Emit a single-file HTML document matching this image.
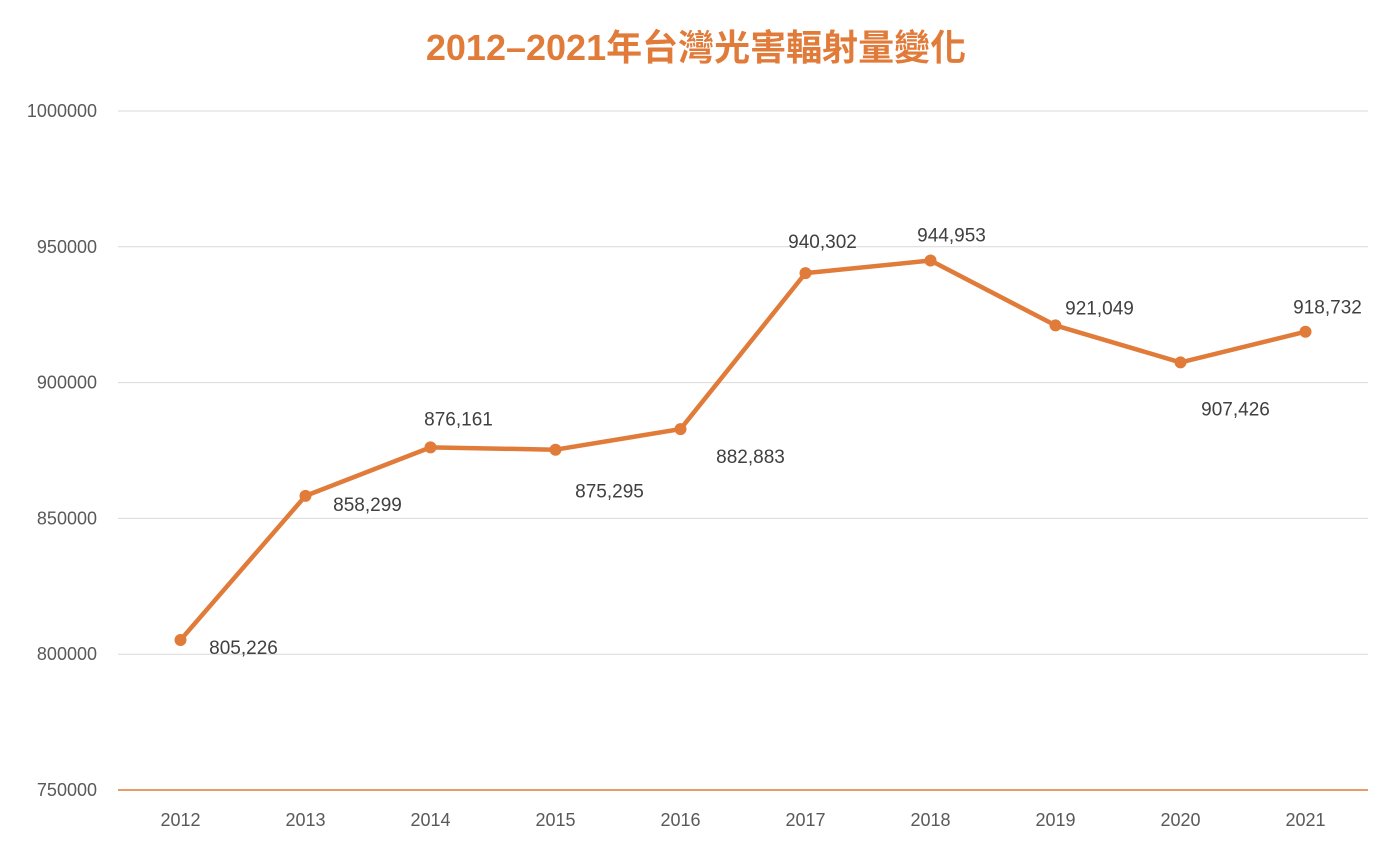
<!DOCTYPE html>
<html><head><meta charset="utf-8"><style>
html,body{margin:0;padding:0;background:#fff;}
svg text{font-family:"Liberation Sans","Noto Sans CJK TC",sans-serif;}
</style></head><body>
<svg id="chart" width="1396" height="844" viewBox="0 0 1396 844" xmlns="http://www.w3.org/2000/svg">
<text x="696" y="60" text-anchor="middle" font-size="36" font-weight="bold" fill="#E07B39">2012–2021年台灣光害輻射量變化</text>
<g id="grid"></g><g id="xaxis"></g><g id="series"></g><g id="labels"></g>
</svg>
<script>
const categories=["2012","2013","2014","2015","2016","2017","2018","2019","2020","2021"];
const values=[805226,858299,876161,875295,882883,940302,944953,921049,907426,918732];
const yTicks=[750000,800000,850000,900000,950000,1000000];
const labelDx=[63,62,28,54,70,17,21,44,55,22];
const labelDy=[8,9,-28,42,28,-31,-25,-17,47,-24];
const NS="http://www.w3.org/2000/svg";
const L=118,R=1368,T=111,B=790,ymin=750000,ymax=1000000;
const x=i=>L+(R-L)/categories.length*(i+0.5);
const y=v=>B-(v-ymin)/(ymax-ymin)*(B-T);
function mk(t,a,p){const e=document.createElementNS(NS,t);for(const k in a)e.setAttribute(k,a[k]);p.appendChild(e);return e;}
const grid=document.getElementById('grid'),xa=document.getElementById('xaxis'),se=document.getElementById('series'),lb=document.getElementById('labels');
yTicks.forEach(v=>{
 const ln=mk('line',{x1:L,x2:R,y1:y(v),y2:y(v),stroke:v===ymin?'#E07B39':'#d9d9d9','stroke-width':v===ymin?1.5:1},grid);
 
 
 const t=mk('text',{x:97,y:y(v)+6,'text-anchor':'end','font-size':18,fill:'#595959'},grid);
 t.textContent=v;
 
 
});
categories.forEach((c,i)=>{
 const t=mk('text',{x:x(i),y:826,'text-anchor':'middle','font-size':18,fill:'#595959'},xa);
 t.textContent=c;
 
 
});
const pl=mk('polyline',{points:values.map((v,i)=>x(i)+','+y(v)).join(' '),fill:'none',stroke:'#E07B39','stroke-width':4.5,'stroke-linejoin':'round'},se);


values.forEach((v,i)=>{
 const c=mk('circle',{cx:x(i),cy:y(v),r:6,fill:'#E07B39'},se);
 
 
 const t=mk('text',{x:x(i)+labelDx[i],y:y(v)+labelDy[i]+6,'text-anchor':'middle','font-size':19,fill:'#404040'},lb);
 t.textContent=v.toLocaleString('en-US');
 
 
});
</script>
</body></html>
